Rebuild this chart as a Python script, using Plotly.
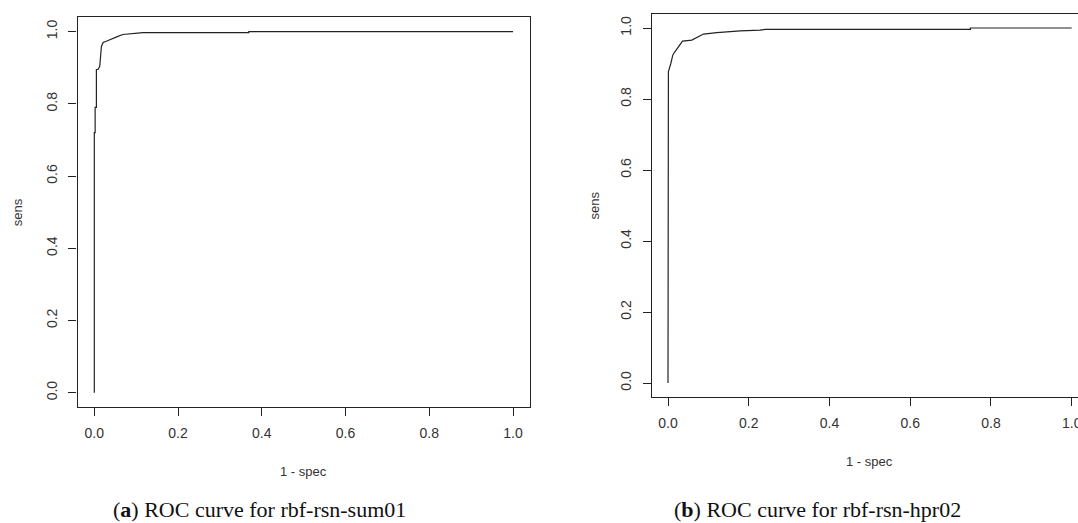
import plotly.graph_objects as go

# ROC curve (a): rbf-rsn-sum01
fpr_a = [0.000, 0.000, 0.002, 0.002, 0.005, 0.005, 0.009, 0.013, 0.017, 0.021, 0.030,
         0.040, 0.055, 0.068, 0.085, 0.100, 0.116, 0.128, 0.369, 0.369, 1.000]
tpr_a = [0.000, 0.720, 0.720, 0.790, 0.790, 0.895, 0.895, 0.904, 0.959, 0.970, 0.974,
         0.978, 0.986, 0.992, 0.994, 0.996, 0.997, 0.997, 0.997, 1.000, 1.000]

# ROC curve (b): rbf-rsn-hpr02
fpr_b = [0.000, 0.000, 0.001, 0.007, 0.012, 0.017, 0.026, 0.036, 0.059, 0.071,
         0.088, 0.121, 0.150, 0.179, 0.228, 0.241, 0.749, 0.749, 1.000]
tpr_b = [0.000, 0.868, 0.877, 0.900, 0.924, 0.933, 0.947, 0.963, 0.966, 0.973,
         0.983, 0.987, 0.990, 0.992, 0.994, 0.996, 0.996, 1.000, 1.000]

tick_vals = [0.0, 0.2, 0.4, 0.6, 0.8, 1.0]
tick_text = ["0.0", "0.2", "0.4", "0.6", "0.8", "1.0"]
x_title = "1 - spec"
y_title = "sens"
captions = ["(<b>a</b>) ROC curve for rbf-rsn-sum01", "(<b>b</b>) ROC curve for rbf-rsn-hpr02"]

W, H = 1078, 523
LINE = "#222222"
TXT = "#333333"
FONT = "Liberation Sans, Arial, sans-serif"

def px_x(p):
    return p / W

def px_y(p):
    return 1 - p / H

fig = go.Figure()
fig.add_trace(go.Scatter(x=fpr_a, y=tpr_a, mode="lines", line=dict(color=LINE, width=1.2),
                         xaxis="x", yaxis="y", showlegend=False, hoverinfo="skip"))
fig.add_trace(go.Scatter(x=fpr_b, y=tpr_b, mode="lines", line=dict(color=LINE, width=1.2),
                         xaxis="x2", yaxis="y2", showlegend=False, hoverinfo="skip"))

common = dict(showgrid=False, zeroline=False, showline=True, linecolor=LINE, linewidth=1.2,
              ticks="outside", ticklen=8, tickwidth=1.2, tickcolor=LINE,
              tickvals=tick_vals, ticktext=tick_text, automargin=False,
              ticklabeloverflow="allow",
              tickfont=dict(family=FONT, size=14, color=TXT))

# panel a: x 0->94.3px, 1->513px ; y 0->392.7px, 1->31.6px
ax_x0, ax_x1 = 94.3, 513.0
ay_0, ay_1 = 392.7, 31.6
ext_x = 0.04 * (ax_x1 - ax_x0)
ext_y = 0.04 * (ay_0 - ay_1)
# panel b: x 0->668px, 1->1071.7px ; y 0->383px, 1->28px
bx_x0, bx_x1 = 668.0, 1071.7
by_0, by_1 = 383.0, 28.0
bext_x = 0.04 * (bx_x1 - bx_x0)
bext_y = 0.04 * (by_0 - by_1)
b_right = (W - (bx_x0 - bext_x)) / (bx_x1 - bx_x0) - 0.04

fig.update_layout(
    width=W, height=H, margin=dict(l=0, r=0, t=0, b=0),
    paper_bgcolor="white", plot_bgcolor="white",
    xaxis=dict(common, domain=[px_x(ax_x0 - ext_x), px_x(ax_x1 + ext_x)], range=[-0.04, 1.04],
               mirror=True, anchor="y", ticklabelstandoff=5),
    yaxis=dict(common, domain=[px_y(ay_0 + ext_y), px_y(ay_1 - ext_y)], range=[-0.04, 1.04],
               mirror=True, anchor="x", tickangle=-90, ticklabelstandoff=6),
    xaxis2=dict(common, domain=[px_x(bx_x0 - bext_x), 1.0], range=[-0.04, b_right],
                mirror=True, anchor="y2", ticklabelstandoff=5),
    yaxis2=dict(common, domain=[px_y(by_0 + bext_y), px_y(by_1 - bext_y)], range=[-0.04, 1.04],
                mirror=False, anchor="x2", tickangle=-90, ticklabelstandoff=6),
)

ann_font = dict(family=FONT, size=13, color=TXT)
cap_font = dict(family="Liberation Serif, Times New Roman, serif", size=22, color="#111111")
annotations = [
    dict(text=x_title, x=px_x((ax_x0 + ax_x1) / 2), y=px_y(471), font=ann_font),
    dict(text=y_title, x=px_x(17), y=px_y((ay_0 + ay_1) / 2), font=ann_font, textangle=-90),
    dict(text=x_title, x=px_x((bx_x0 + bx_x1) / 2), y=px_y(461), font=ann_font),
    dict(text=y_title, x=px_x(594), y=px_y((by_0 + by_1) / 2), font=ann_font, textangle=-90),
    dict(text=captions[0], x=px_x(259), y=px_y(509), font=cap_font),
    dict(text=captions[1], x=px_x(817), y=px_y(509), font=cap_font),
]
for a in annotations:
    a.update(xref="paper", yref="paper", showarrow=False, xanchor="center", yanchor="middle")
fig.update_layout(annotations=annotations)

fig.write_html("out.html")
